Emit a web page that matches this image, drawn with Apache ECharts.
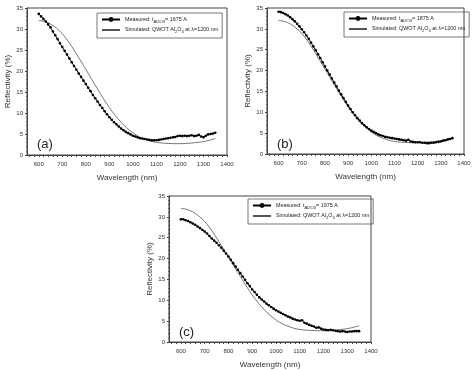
<!DOCTYPE html>
<html><head><meta charset="utf-8">
<script src="https://cdn.jsdelivr.net/npm/echarts@6/dist/echarts.min.js"></script>
<style>html,body{margin:0;padding:0;background:#fff}#c{width:474px;height:370px}</style>
</head><body><div id="c"></div>
<script>
const wlMeas = [600,610,620,630,640,650,660,670,680,690,700,710,720,730,740,750,760,770,780,790,800,810,820,830,840,850,860,870,880,890,900,910,920,930,940,950,960,970,980,990,1000,1010,1020,1030,1040,1050,1060,1070,1080,1090,1100,1110,1120,1130,1140,1150,1160,1170,1180,1190,1200,1210,1220,1230,1240,1250,1260,1270,1280,1290,1300,1310,1320,1330,1340,1350];
const measA = [33.6,33.0,32.4,31.8,31.1,30.4,29.4,28.5,27.6,26.6,25.7,24.8,23.9,23.0,22.1,21.2,20.3,19.4,18.6,17.7,16.9,16.0,15.2,14.3,13.5,12.7,11.9,11.2,10.4,9.7,9.0,8.4,7.8,7.3,6.8,6.3,5.9,5.5,5.2,4.9,4.6,4.4,4.2,4.0,3.9,3.8,3.7,3.6,3.5,3.5,3.5,3.6,3.7,3.8,3.9,4.0,4.1,4.2,4.3,4.5,4.6,4.5,4.6,4.5,4.6,4.7,4.5,4.6,4.8,4.4,4.2,4.6,4.9,5.0,5.1,5.3];
const measB = [34.1,34.0,33.8,33.5,33.2,32.8,32.3,31.8,31.2,30.6,29.9,29.2,28.4,27.6,26.7,25.8,24.9,23.9,23.0,22.0,21.0,20.0,19.1,18.1,17.1,16.2,15.2,14.3,13.4,12.5,11.6,10.8,10.0,9.3,8.6,8.0,7.4,6.9,6.4,6.0,5.6,5.3,5.0,4.7,4.5,4.3,4.1,4.0,3.9,3.8,3.7,3.6,3.5,3.4,3.3,3.2,3.4,3.0,2.9,2.8,2.8,2.8,2.7,2.7,2.6,2.6,2.7,2.7,2.8,2.9,3.0,3.2,3.3,3.5,3.6,3.8];
const measC = [29.4,29.4,29.2,29.0,28.7,28.4,28.1,27.7,27.3,26.9,26.5,26.0,25.4,24.8,24.3,23.8,23.2,22.6,21.9,21.2,20.5,19.7,18.9,18.1,17.3,16.5,15.7,14.9,14.1,13.4,12.6,12.0,11.3,10.7,10.2,9.7,9.2,8.8,8.4,8.0,7.6,7.3,7.0,6.7,6.4,6.1,5.9,5.6,5.4,5.2,5.1,5.2,4.6,4.4,4.1,3.9,3.7,3.4,3.5,3.2,3.0,2.9,2.8,2.9,2.8,2.7,2.6,2.5,2.6,2.5,2.4,2.5,2.5,2.6,2.6,2.6];
const wlSim = [600,625,650,675,700,725,750,775,800,825,850,875,900,925,950,975,1000,1025,1050,1075,1100,1125,1150,1175,1200,1225,1250,1275,1300,1325,1350];
const simQWOT = [32.0,31.8,31.2,30.2,28.9,27.1,25.0,22.7,20.4,18.0,15.7,13.4,11.3,9.4,7.8,6.4,5.3,4.4,3.8,3.3,3.0,2.85,2.75,2.7,2.7,2.75,2.85,3.0,3.2,3.5,3.9];
const xLabels = [600,700,800,900,1000,1100,1200,1300,1400];
const xMinorTicks = [560,580,600,620,640,660,680,700,720,740,760,780,800,820,840,860,880,900,920,940,960,980,1000,1020,1040,1060,1080,1100,1120,1140,1160,1180,1200,1220,1240,1260,1280,1300,1320,1340,1360,1380,1400];
const thicknesses = ['1675','1875','1975'];
const panelLabels = ['(a)','(b)','(c)'];

const FONT = 'Liberation Sans';
const chart = echarts.init(document.getElementById('c'), null, {renderer:'canvas'});
const pair = (xs, ys) => xs.map((x, i) => [x, ys[i]]);

const grids = [
  {left: 27, top: 8, width: 200, height: 147},
  {left: 267, top: 8, width: 197, height: 146},
  {left: 169, top: 196, width: 202, height: 147}
];
const legendPos = [
  {left: 97, top: 13},
  {left: 344, top: 12},
  {left: 248, top: 199}
];
const meas = [measA, measB, measC];

const xAxes = [], yAxes = [], series = [], legends = [], graphics = [];
grids.forEach((g, i) => {
  xAxes.push({
    type: 'value', gridIndex: i, min: 550, max: 1400,
    name: 'Wavelength (nm)', nameLocation: 'middle', nameGap: 19,
    nameTextStyle: {fontFamily: FONT, fontSize: 8, color: '#333'},
    axisLine: {lineStyle: {color: '#444', width: 1}},
    axisTick: {show: true, customValues: xMinorTicks, length: 2, lineStyle: {color: '#444'}},
    axisLabel: {customValues: xLabels, fontFamily: FONT, fontSize: 6, color: '#333', margin: 6,
      formatter: (v) => String(v)},
    splitLine: {show: false}
  });
  yAxes.push({
    type: 'value', gridIndex: i, min: 0, max: 35, interval: 5,
    name: 'Reflectivity (%)', nameLocation: 'middle', nameGap: 15, nameRotate: 90,
    nameTextStyle: {fontFamily: FONT, fontSize: 8, color: '#333'},
    axisLine: {show: true, lineStyle: {color: '#444', width: 1}},
    axisTick: {show: true, length: 2, lineStyle: {color: '#444'}},
    minorTick: {show: true, splitNumber: 5, length: 1, lineStyle: {color: '#666'}},
    axisLabel: {fontFamily: FONT, fontSize: 6, color: '#333', margin: 4},
    splitLine: {show: false}
  });
  series.push({
    name: 'meas' + i, type: 'line', xAxisIndex: i, yAxisIndex: i,
    data: pair(wlMeas, meas[i]),
    symbol: 'circle', symbolSize: 2.6, showSymbol: true,
    itemStyle: {color: '#000'}, lineStyle: {color: '#000', width: 1},
    z: 3, animation: false
  });
  series.push({
    name: 'sim' + i, type: 'line', xAxisIndex: i, yAxisIndex: i,
    data: pair(wlSim, simQWOT), smooth: 0.3,
    symbol: 'none', showSymbol: false,
    itemStyle: {color: '#555'}, lineStyle: {color: '#555', width: 0.8},
    z: 2, animation: false
  });
  legends.push(Object.assign({
    data: [{name: 'meas' + i}, {name: 'sim' + i, itemStyle: {opacity: 0}}],
    orient: 'vertical',
    padding: [4, 4, 4, 4], itemGap: 4, itemWidth: 18, itemHeight: 6,
    borderColor: '#555', borderWidth: 0.8, selectedMode: false,
    formatter: (name) => name.startsWith('meas')
      ? 'Measured: t{sub|Al2O3}= ' + thicknesses[i] + ' A'
      : 'Simulated: QWOT Al{sub|2}O{sub|3} at λ=1200 nm',
    textStyle: {fontFamily: FONT, fontSize: 5.4, color: '#222',
      rich: {sub: {fontFamily: FONT, fontSize: 4.2, color: '#222', verticalAlign: 'bottom', padding: [4, 0, 0, 0]}}}
  }, legendPos[i]));
  graphics.push({
    type: 'text', left: g.left + 10, top: g.top + 130,
    style: {text: panelLabels[i], fontFamily: FONT, fontSize: 13, fill: '#222'}
  });
});

chart.setOption({
  animation: false,
  backgroundColor: '#fff',
  grid: grids.map(g => Object.assign({show: true, borderColor: '#444', borderWidth: 1, backgroundColor: 'transparent'}, g)),
  xAxis: xAxes, yAxis: yAxes, series: series, legend: legends, graphic: graphics
});
</script>
</body></html>
